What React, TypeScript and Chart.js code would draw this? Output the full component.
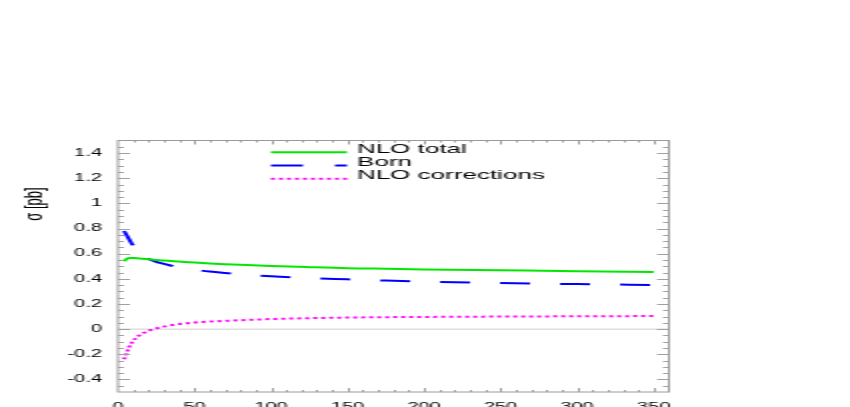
import React, { useEffect, useRef } from "react";
import { Chart, registerables } from "chart.js";

Chart.register(...registerables);

const xValues = [4, 5, 6, 7, 8, 9, 10, 12, 14, 16, 18, 20, 25, 30, 40, 50, 60, 70, 80, 100, 125, 150, 175, 200, 250, 300, 350];
const nloTotal = [0.540, 0.552, 0.560, 0.564, 0.566, 0.566, 0.566, 0.564, 0.562, 0.559, 0.557, 0.555, 0.550, 0.545, 0.537, 0.529, 0.522, 0.516, 0.511, 0.502, 0.493, 0.485, 0.480, 0.475, 0.468, 0.461, 0.455];
const born = [0.780, 0.760, 0.740, 0.720, 0.700, 0.680, 0.665, 0.635, 0.610, 0.585, 0.570, 0.558, 0.535, 0.519, 0.490, 0.472, 0.458, 0.447, 0.437, 0.420, 0.406, 0.396, 0.386, 0.377, 0.366, 0.358, 0.351];
const nloCorrections = [-0.240, -0.210, -0.178, -0.150, -0.127, -0.108, -0.092, -0.068, -0.050, -0.035, -0.024, -0.013, 0.005, 0.020, 0.040, 0.052, 0.060, 0.066, 0.071, 0.080, 0.087, 0.092, 0.095, 0.097, 0.100, 0.102, 0.104];

const seriesLabels = ["NLO total", "Born", "NLO corrections"];
const seriesColors = ["#00e800", "#0000ff", "#ff00ff"];
const seriesDashes = [[], [15, 15], [2, 2]];
const legendDashes = [[], [16, 16], [2, 2]];

const xTickValues = [0, 50, 100, 150, 200, 250, 300, 350];
const yTickValues = [-0.4, -0.2, 0, 0.2, 0.4, 0.6, 0.8, 1, 1.2, 1.4];

const yTitle = "σ [pb]";
const xMin = 0, xMax = 360, xStep = 50, xMinor = 10;
const yMin = -0.5, yMax = 1.5, yStep = 0.2, yMinor = 0.05;

const FONT = "'Liberation Sans', Arial, sans-serif";

const framePlugin = {
  id: "frame",
  beforeDatasetsDraw(chart: any) {
    const { ctx, chartArea: a, scales } = chart;
    const y0 = scales.y.getPixelForValue(0);
    ctx.save();
    ctx.strokeStyle = "#cfcfcf";
    ctx.lineWidth = 1;
    ctx.beginPath();
    ctx.moveTo(a.left, y0);
    ctx.lineTo(a.right, y0);
    ctx.stroke();
    ctx.restore();
  },
  afterDraw(chart: any) {
    const { ctx, chartArea: a, scales } = chart;
    const xs = scales.x, ys = scales.y;
    ctx.save();
    ctx.strokeStyle = "#9a9a9a";
    ctx.lineWidth = 1;
    ctx.strokeRect(a.left, a.top, a.right - a.left, a.bottom - a.top);
    ctx.strokeStyle = "#a0a0a0";
    ctx.beginPath();
    const nY = Math.round((yMax - yMin) / yMinor);
    for (let i = 1; i < nY; i++) {
      const v = yMin + i * yMinor;
      const major = Math.abs(v / yStep - Math.round(v / yStep)) < 1e-6;
      const len = major ? 6 : 3;
      const p = Math.round(ys.getPixelForValue(v)) + 0.5;
      ctx.moveTo(a.left, p);
      ctx.lineTo(a.left + len, p);
      ctx.moveTo(a.right, p);
      ctx.lineTo(a.right - len, p);
    }
    const nX = Math.round((xMax - xMin) / xMinor);
    for (let i = 1; i < nX; i++) {
      const v = xMin + i * xMinor;
      const major = v % xStep === 0;
      const len = major ? 4 : 2;
      const p = Math.round(xs.getPixelForValue(v)) + 0.5;
      ctx.moveTo(p, a.top);
      ctx.lineTo(p, a.top + len);
      ctx.moveTo(p, a.bottom);
      ctx.lineTo(p, a.bottom - len);
    }
    ctx.stroke();

    ctx.fillStyle = "#000";
    ctx.font = `13px ${FONT}`;
    ctx.save();
    ctx.translate(17.3, 204);
    ctx.rotate(-Math.PI / 2);
    ctx.textAlign = "center";
    ctx.textBaseline = "middle";
    ctx.fillText(yTitle, 0, 0);
    ctx.restore();

    const baselines = [152.7, 166.0, 179.3];
    chart.data.datasets.forEach((ds: any, i: number) => {
      const by = baselines[i];
      ctx.save();
      ctx.strokeStyle = ds.borderColor;
      ctx.lineWidth = 2;
      ctx.setLineDash(legendDashes[i]);
      ctx.beginPath();
      ctx.moveTo(135.5, by - 0.5);
      ctx.lineTo(173.5, by - 0.5);
      ctx.stroke();
      ctx.restore();
      ctx.fillStyle = "#000";
      ctx.font = `13px ${FONT}`;
      ctx.textAlign = "left";
      ctx.textBaseline = "alphabetic";
      ctx.fillText(ds.label, 178.5, by);
    });
    ctx.restore();
  },
};

export default function App() {
  const ref = useRef<HTMLCanvasElement | null>(null);
  useEffect(() => {
    if (!ref.current) return;
    const datasets = [nloTotal, born, nloCorrections].map((vals, i) => ({
      label: seriesLabels[i],
      data: xValues.map((x, k) => ({ x, y: vals[k] })),
      borderColor: seriesColors[i],
      backgroundColor: seriesColors[i],
      borderWidth: 2,
      borderDash: seriesDashes[i],
      pointRadius: 0,
      fill: false,
      cubicInterpolationMode: "monotone" as const,
    }));
    const chart = new Chart(ref.current, {
      type: "line",
      data: { datasets },
      options: {
        animation: false,
        responsive: false,
        devicePixelRatio: 1,
        layout: { padding: { top: 140.5, right: 90.5, bottom: 0, left: 0 } },
        plugins: { legend: { display: false }, tooltip: { enabled: false } },
        events: [],
        scales: {
          x: {
            type: "linear",
            min: xMin,
            max: xMax,
            grid: { display: false, drawTicks: false },
            border: { display: false },
            afterFit: (s: any) => { s.height = 15; },
            afterBuildTicks: (s: any) => { s.ticks = xTickValues.map((value) => ({ value })); },
            ticks: {
              autoSkip: false,
              maxRotation: 0,
              padding: 9,
              color: "#000",
              font: { family: FONT, size: 10 },
              callback: (v: any) => String(v),
            },
          },
          y: {
            type: "linear",
            min: yMin,
            max: yMax,
            grid: { display: false, drawTicks: false },
            border: { display: false },
            afterFit: (s: any) => { s.width = 59; },
            afterBuildTicks: (s: any) => { s.ticks = yTickValues.map((value) => ({ value })); },
            ticks: {
              autoSkip: false,
              padding: 8,
              color: "#000",
              font: { family: FONT, size: 10 },
              callback: (v: any) => String(Math.round(Number(v) * 10) / 10),
            },
          },
        },
      },
      plugins: [framePlugin],
    });
    return () => chart.destroy();
  }, []);
  return (
    <canvas
      ref={ref}
      width={425}
      height={407}
      style={{ position: "absolute", left: 0, top: 0, width: "850px", height: "407px" }}
    />
  );
}
